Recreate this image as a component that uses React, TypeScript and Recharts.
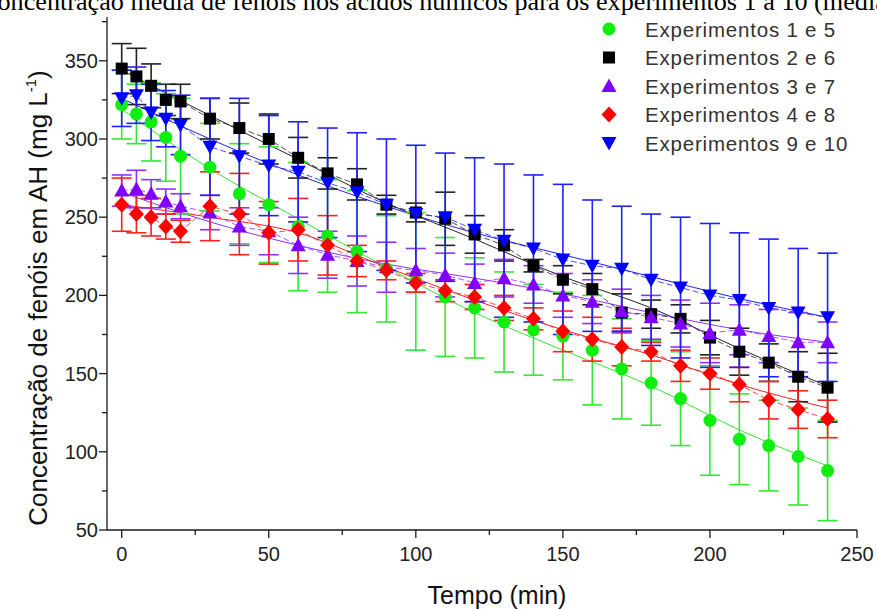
import React from 'react';
import { ComposedChart, Scatter, Line, XAxis, YAxis, ErrorBar } from 'recharts';

// ---- data ----
const times = [0, 5, 10, 15, 20, 30, 40, 50, 60, 70, 80, 90, 100, 110, 120, 130, 140, 150, 160, 170, 180, 190, 200, 210, 220, 230, 240];

const exp15 = [322, 316, 311, 301, 289, 282, 265, 258, 244, 238, 228, 217, 209, 199, 192, 183, 178, 174, 165, 153, 144, 134, 120, 108, 104, 97, 88];
const exp15Err = [22, 19, 25, 28, 37, 28, 32, 37, 41, 36, 39, 34, 44, 38, 32, 32, 29, 28, 35, 32, 27, 30, 35, 29, 29, 31, 32];

const exp26 = [345, 340, 334, 325, 324, 313, 307, 300, 288, 278, 271, 258, 253, 249, 239, 232, 219, 210, 204, 189, 188, 185, 173, 164, 157, 148, 141];
const exp26Err = [16, 18, 14, 10, 11, 13, 16, 16, 13, 10, 10, 6, 6, 17, 12, 10, 4, 9, 10, 12, 9, 9, 11, 15, 12, 16, 22];

const exp37 = [267, 268, 265, 260, 257, 253, 244, 241, 232, 226, 222, 218, 216, 213, 208, 211, 207, 200, 196, 190, 186, 182, 176, 178, 174, 170, 170];
const exp37Err = [10, 12, 9, 8, 8, 11, 12, 15, 18, 15, 16, 16, 14, 14, 12, 12, 12, 14, 14, 14, 14, 15, 19, 16, 17, 19, 13];

const exp48 = [258, 252, 250, 244, 241, 257, 252, 240, 242, 232, 222, 216, 208, 203, 199, 192, 185, 177, 172, 167, 164, 155, 150, 143, 133, 127, 121];
const exp48Err = [17, 12, 12, 8, 7, 22, 26, 20, 20, 19, 10, 6, 6, 7, 8, 8, 7, 13, 14, 12, 6, 10, 10, 11, 12, 12, 12];

const exp910 = [326, 328, 317, 313, 309, 295, 289, 283, 279, 272, 266, 258, 252, 250, 242, 235, 230, 223, 219, 217, 210, 205, 200, 197, 192, 189, 186];
const exp910Err = [18, 18, 18, 18, 19, 31, 37, 32, 32, 35, 38, 42, 44, 41, 46, 49, 47, 48, 42, 40, 42, 45, 46, 43, 44, 41, 41];

// fitted curves (read at regular times)
const fitTimes = [0, 30, 60, 90, 120, 150, 180, 210, 240];
const fit15 = [319, 281, 249, 218, 189, 165, 142, 114, 91];
const fit26 = [344, 315, 287, 259, 236, 212, 192, 166, 142];
const fit37 = [266, 247, 232, 220, 211, 201, 189, 178, 170];
const fit48 = [258, 250, 240, 218, 197, 178, 162, 143, 128];
const fit910 = [326, 300, 277, 257, 240, 226, 212, 198, 186];

const xTicks = [0, 25, 50, 75, 100, 125, 150, 175, 200, 225, 250];
const yTicks = [50, 75, 100, 125, 150, 175, 200, 225, 250, 275, 300, 325, 350, 375];

const seriesNames = ['Experimentos 1 e 5', 'Experimentos 2 e 6', 'Experimentos 3 e 7', 'Experimentos 4 e 8', 'Experimentos 9 e 10'];

const titleText = 'Concentração média de fenóis nos ácidos húmicos para os experimentos 1 a 10 (média';

type Shape = 'circle' | 'square' | 'up' | 'diamond' | 'down';

const series: { name: string; values: number[]; errors: number[]; fit: number[]; color: string; errColor: string; shape: Shape; dashed: boolean }[] = [
  { name: seriesNames[0], values: exp15, errors: exp15Err, fit: fit15, color: '#10ee10', errColor: '#33e833', shape: 'circle', dashed: false },
  { name: seriesNames[1], values: exp26, errors: exp26Err, fit: fit26, color: '#000000', errColor: '#222222', shape: 'square', dashed: true },
  { name: seriesNames[2], values: exp37, errors: exp37Err, fit: fit37, color: '#8000ff', errColor: '#9030ff', shape: 'up', dashed: true },
  { name: seriesNames[3], values: exp48, errors: exp48Err, fit: fit48, color: '#ff0000', errColor: '#ff2020', shape: 'diamond', dashed: true },
  { name: seriesNames[4], values: exp910, errors: exp910Err, fit: fit910, color: '#0000ff', errColor: '#2020ff', shape: 'down', dashed: true },
];

function drawMarker(shape: Shape, color: string, cx: number, cy: number) {
  switch (shape) {
    case 'circle':
      return <circle cx={cx} cy={cy} r={6.5} fill={color} />;
    case 'square':
      return <rect x={cx - 6} y={cy - 6} width={12} height={12} fill={color} />;
    case 'up':
      return <polygon points={`${cx},${cy - 7.5} ${cx + 7.5},${cy + 6} ${cx - 7.5},${cy + 6}`} fill={color} />;
    case 'diamond':
      return <polygon points={`${cx},${cy - 8} ${cx + 7.5},${cy} ${cx},${cy + 8} ${cx - 7.5},${cy}`} fill={color} />;
    case 'down':
    default:
      return <polygon points={`${cx - 7.5},${cy - 6} ${cx + 7.5},${cy - 6} ${cx},${cy + 7.5}`} fill={color} />;
  }
}

const AXIS_COLOR = '#1a1a1a';
const TICK_FONT = "Arial, 'Liberation Sans', sans-serif";

const XTick = (props: any) => {
  const { x, y, payload } = props;
  const major = payload.value % 50 === 0;
  return (
    <g>
      <line x1={x} x2={x} y1={y} y2={y + (major ? 8 : 5)} stroke={AXIS_COLOR} strokeWidth={1.3} />
      {major && (
        <text x={x} y={y + 31} textAnchor="middle" fontFamily={TICK_FONT} fontSize={20} fill="#222">
          {payload.value}
        </text>
      )}
    </g>
  );
};

const YTick = (props: any) => {
  const { x, y, payload } = props;
  const major = payload.value % 50 === 0;
  return (
    <g>
      <line x1={x} x2={x - (major ? 8 : 5)} y1={y} y2={y} stroke={AXIS_COLOR} strokeWidth={1.3} />
      {major && (
        <text x={x - 9} y={y + 7} textAnchor="end" fontFamily={TICK_FONT} fontSize={20} fill="#222">
          {payload.value}
        </text>
      )}
    </g>
  );
};

export default function App() {
  return (
    <div style={{ position: 'absolute', left: 0, top: 0, width: 877, height: 609, background: '#fff', overflow: 'hidden' }}>
      <ComposedChart width={877} height={609} margin={{ top: 17, right: 20, bottom: 0, left: 0 }}>
        <XAxis
          type="number"
          dataKey="t"
          domain={[-5, 250]}
          ticks={xTicks}
          allowDataOverflow
          height={79}
          tickSize={0}
          tickMargin={0}
          tickLine={false}
          axisLine={{ stroke: AXIS_COLOR, strokeWidth: 1.3 }}
          tick={<XTick />}
          interval={0}
        />
        <YAxis
          type="number"
          dataKey="v"
          domain={[50, 378]}
          ticks={yTicks}
          allowDataOverflow
          width={107}
          tickSize={0}
          tickMargin={0}
          tickLine={false}
          axisLine={{ stroke: AXIS_COLOR, strokeWidth: 1.3 }}
          tick={<YTick />}
          interval={0}
        />
        {series.map((s) => (
          <Line
            key={`fit-${s.name}`}
            data={fitTimes.map((t, i) => ({ t, v: s.fit[i] }))}
            dataKey="v"
            type="monotone"
            dot={false}
            activeDot={false}
            stroke={s.errColor}
            strokeWidth={1}
            isAnimationActive={false}
            legendType="none"
          />
        ))}
        {series
          .filter((s) => s.dashed)
          .map((s) => (
            <Line
              key={`dash-${s.name}`}
              data={times.map((t, i) => ({ t, v: s.values[i] }))}
              dataKey="v"
              type="linear"
              dot={false}
              activeDot={false}
              stroke={s.errColor}
              strokeWidth={1}
              strokeDasharray="6 3"
              strokeOpacity={0.8}
              isAnimationActive={false}
              legendType="none"
            />
          ))}
        {series.map((s) => (
          <Scatter
            key={`pts-${s.name}`}
            name={s.name}
            data={times.map((t, i) => ({ t, v: s.values[i], e: s.errors[i] }))}
            dataKey="v"
            fill={s.color}
            isAnimationActive={false}
            shape={(p: any) => drawMarker(s.shape, s.color, p.cx, p.cy)}
          >
            <ErrorBar dataKey="e" direction="y" width={10} stroke={s.errColor} strokeWidth={1.6} isAnimationActive={false} />
          </Scatter>
        ))}
      </ComposedChart>

      <svg width={877} height={609} style={{ position: 'absolute', left: 0, top: 0, pointerEvents: 'none' }}>
        <text x={-20} y={10} fontFamily="'Liberation Serif', 'Times New Roman', serif" fontSize={26.2} fill="#000">
          {titleText}
        </text>
        {series.map((s, i) => (
          <g key={`leg-${s.name}`}>
            {drawMarker(s.shape, s.color, 609, 29 + i * 28.5)}
            <text x={645} y={29 + i * 28.5 + 7.5} fontFamily={TICK_FONT} fontSize={20.5} fill="#333" letterSpacing={0.8}>
              {s.name}
            </text>
          </g>
        ))}
        <text
          transform="translate(47, 298) rotate(-90)"
          textAnchor="middle"
          fontFamily={TICK_FONT}
          fontSize={26}
          fill="#111"
        >
          Concentração de fenóis em AH (mg L
          <tspan fontSize={15} dy={-11}>-1</tspan>
          <tspan dy={11}>)</tspan>
        </text>
        <text x={497} y={604} textAnchor="middle" fontFamily={TICK_FONT} fontSize={25} fill="#111">
          Tempo (min)
        </text>
      </svg>
    </div>
  );
}
